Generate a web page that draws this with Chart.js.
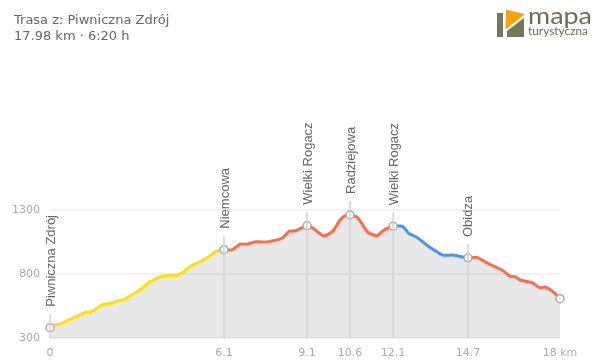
<!DOCTYPE html>
<html>
<head>
<meta charset="utf-8">
<script src="https://cdn.jsdelivr.net/npm/chart.js@4"></script>
<style>
    html, body { margin: 0; padding: 0; background: #fff; }
    #wrap { position: relative; width: 600px; height: 362px; overflow: hidden; }
    #title { position: absolute; left: 14px; top: 12px; font: 13px/16px "DejaVu Sans", sans-serif; color: #666; }
    #logo { position: absolute; left: 490px; top: 0; }
    canvas { position: absolute; left: 0; top: 0; }
</style>
</head>
<body>
<div id="wrap">
    <canvas id="profile" width="600" height="362"></canvas>
    <div id="title">Trasa z: Piwniczna Zdrój<br>17.98 km · 6:20 h</div>
    <svg id="logo" width="110" height="45">
        <path d="M7 13h6v24H7zM17 37v-6l17-13v19z" fill="#77755c"/>
        <path d="M16 9.500L35 14 15.500 29.500z" fill="#f9a30f"/>
        <text x="38" y="24" font-family="Lato" font-size="24" textLength="64" lengthAdjust="spacingAndGlyphs" fill="#6e6b58">mapa</text>
        <text x="38" y="35" font-family="Lato" font-size="11.500" textLength="60" lengthAdjust="spacingAndGlyphs" fill="#6e6b58">turystyczna</text>
    </svg>
</div>
<script>
// Distance along the route (km) and elevation (m)
const distances = [0, 0.35, 0.71, 1.0, 1.24, 1.45, 1.66, 1.84, 2.19, 2.36, 2.61, 2.82, 3.07, 3.35, 3.49, 3.71, 3.92, 4.24, 4.48, 4.69, 4.94, 5.29, 5.58, 5.82, 6.14, 6.42, 6.71, 6.95, 7.24, 7.48, 7.76, 8.19, 8.44, 8.65, 9.07, 9.25, 9.42, 9.64, 9.81, 9.99, 10.24, 10.41, 10.59, 10.84, 11.01, 11.22, 11.54, 11.75, 12.11, 12.35, 12.46, 12.67, 12.92, 13.34, 13.87, 14.22, 14.75, 15.07, 15.35, 15.71, 15.95, 16.24, 16.41, 16.59, 17.01, 17.29, 17.47, 17.75, 18];
const elevations = [396, 409, 446, 474, 501, 505, 532, 560, 573, 589, 599, 630, 662, 706, 735, 761, 779, 790, 790, 816, 857, 896, 930, 974, 990, 988, 1034, 1032, 1052, 1050, 1055, 1079, 1134, 1138, 1177, 1162, 1134, 1099, 1110, 1138, 1222, 1255, 1261, 1243, 1191, 1126, 1099, 1138, 1173, 1175, 1170, 1115, 1091, 1019, 948, 948, 925, 930, 896, 857, 831, 782, 779, 753, 732, 693, 698, 662, 610];

// Named points along the route
const stopNames = ['Piwniczna Zdrój', 'Niemcowa', 'Wielki Rogacz', 'Radziejowa', 'Wielki Rogacz', 'Obidza', ''];
const stopKm = [0, 6.14, 9.07, 10.59, 12.11, 14.75, 18];
const stopElevations = [380, 990, 1177, 1261, 1173, 925, 607];

// X axis labels, one per stop
const tickLabels = ['0', '6.1', '9.1', '10.6', '12.1', '14.7', '18 km'];

// Line colour per section of the route
const sectionEnds = [6.14, 12.11, 14.75, 18];
const sectionColors = ['#ffe000', '#ff6a4d', '#4a94e8', '#ff6a4d'];

function sectionColor(km) {
    const i = sectionEnds.findIndex(end => km < end);
    return sectionColors[i < 0 ? sectionColors.length - 1 : i];
}

// Draws the stem and the rotated name above each stop
const stopLabels = {
    id: 'stopLabels',
    afterDatasetsDraw(chart) {
        const { ctx, scales: { x, y } } = chart;
        ctx.save();
        stopNames.forEach((name, i) => {
            if (!name) return;
            const px = x.getPixelForValue(stopKm[i]);
            const py = y.getPixelForValue(stopElevations[i]);
            ctx.strokeStyle = '#d2d2d2';
            ctx.lineWidth = 1.5;
            ctx.beginPath();
            ctx.moveTo(px, y.bottom);
            ctx.lineTo(px, py - 14);
            ctx.stroke();

            ctx.save();
            ctx.translate(px + 1, py - 21);
            ctx.rotate(-Math.PI / 2);
            ctx.font = '13px "Liberation Sans"';
            ctx.fillStyle = '#666';
            ctx.textAlign = 'left';
            ctx.textBaseline = 'middle';
            ctx.fillText(name, 0, 0);
            ctx.restore();
        });
        ctx.restore();
    }
};

new Chart(document.getElementById('profile').getContext('2d'), {
    type: 'line',
    data: {
        datasets: [{
            data: stopKm.map((km, i) => ({ x: km, y: stopElevations[i] })),
            showLine: false,
            pointRadius: 4,
            pointBackgroundColor: '#fff',
            pointBorderColor: '#aaa',
            pointBorderWidth: 1.5,
            clip: false,
            order: 0
        }, {
            data: distances.map((km, i) => ({ x: km, y: elevations[i] })),
            borderWidth: 3,
            tension: 0.2,
            pointRadius: 0,
            fill: 'origin',
            backgroundColor: 'rgba(0,0,0,0.09)',
            segment: {
                borderColor: c => sectionColor(c.p0.parsed.x)
            },
            order: 1
        }]
    },
    options: {
        responsive: false,
        animation: false,
        devicePixelRatio: 1,
        layout: { padding: { top: 210, right: 40 } },
        plugins: { legend: { display: false }, tooltip: { enabled: false } },
        scales: {
            x: {
                type: 'linear',
                min: 0,
                max: 18,
                grid: { display: false },
                border: { display: false },
                afterBuildTicks: axis => { axis.ticks = stopKm.map(value => ({ value })); },
                afterFit: axis => { axis.height = 24; },
                ticks: {
                    autoSkip: false,
                    maxRotation: 0,
                    padding: 1,
                    color: '#aaa',
                    font: { family: 'DejaVu Sans', size: 11 },
                    callback: (value, index) => tickLabels[index]
                }
            },
            y: {
                min: 300,
                max: 1300,
                border: { display: false },
                grid: { color: '#f2f2f2', lineWidth: 2, drawTicks: false },
                afterFit: axis => { axis.width = 50; },
                ticks: {
                    stepSize: 500,
                    padding: 10,
                    color: '#aaa',
                    font: { family: 'DejaVu Sans', size: 11 },
                    callback: value => String(value)
                }
            }
        }
    },
    plugins: [stopLabels]
});
</script>
</body>
</html>
